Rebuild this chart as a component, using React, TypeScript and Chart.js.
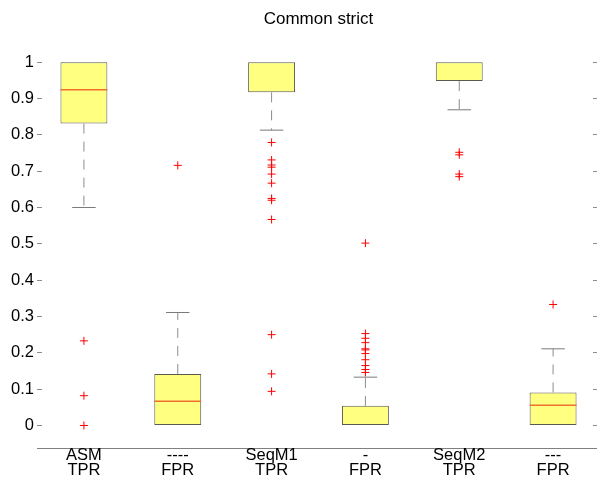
import React, { useEffect, useRef } from 'react';
import { Chart, registerables } from 'chart.js';

Chart.register(...registerables);

// ---- data ----
const labelsTop = ['ASM', '----', 'SeqM1', '-', 'SeqM2', '---'];
const labelsBottom = ['TPR', 'FPR', 'TPR', 'FPR', 'TPR', 'FPR'];
const q1 = [0.831, 0, 0.917, 0, 0.948, 0];
const q3 = [1, 0.142, 1, 0.054, 1, 0.091];
const medians = [0.924, 0.067, 1, 0, 1, 0.056];
const lowerWhisker = [0.6, 0, 0.813, 0, 0.869, 0];
const upperWhisker = [1, 0.311, 1, 0.133, 1, 0.211];
const outliers: number[][] = [
  [0.233, 0.082, 0],
  [0.716],
  [0.779, 0.731, 0.717, 0.711, 0.692, 0.667, 0.625, 0.62, 0.567, 0.25, 0.142, 0.094],
  [0.502, 0.253, 0.24, 0.228, 0.211, 0.208, 0.198, 0.181, 0.165, 0.154, 0.146],
  [0.752, 0.745, 0.692, 0.685],
  [0.333],
];
const yTicks = [0, 0.1, 0.2, 0.3, 0.4, 0.5, 0.6, 0.7, 0.8, 0.9, 1];
const Y_MIN = -0.062;
const Y_MAX = 1.06;
const TITLE = 'Common strict';

const FONT = "'Liberation Sans', Arial, Helvetica, sans-serif";

export default function App() {
  const ref = useRef<HTMLCanvasElement>(null);

  useEffect(() => {
    if (!ref.current) return;
    const positions = labelsTop.map((_, i) => i + 1);
    const boxHalf = 0.25;
    const capHalf = 0.125;

    const boxData = positions.map((x, i) => ({ x, y: [q1[i], q3[i]] }));

    const medianData: any[] = [];
    positions.forEach((x, i) => {
      if (medians[i] > q1[i] && medians[i] < q3[i]) {
        medianData.push({ x: x - boxHalf, y: medians[i] }, { x: x + boxHalf, y: medians[i] }, { x: x + 0.4, y: null });
      }
    });

    const whiskerData: any[] = [];
    const capData: any[] = [];
    positions.forEach((x, i) => {
      if (lowerWhisker[i] < q1[i]) {
        whiskerData.push({ x, y: q1[i] }, { x, y: lowerWhisker[i] }, { x: x + 0.01, y: null });
        capData.push({ x: x - capHalf, y: lowerWhisker[i] }, { x: x + capHalf, y: lowerWhisker[i] }, { x: x + 0.2, y: null });
      }
      if (upperWhisker[i] > q3[i]) {
        whiskerData.push({ x, y: q3[i] }, { x, y: upperWhisker[i] }, { x: x + 0.02, y: null });
        capData.push({ x: x - capHalf, y: upperWhisker[i] }, { x: x + capHalf, y: upperWhisker[i] }, { x: x + 0.3, y: null });
      }
    });

    const outlierData: any[] = [];
    positions.forEach((x, i) => outliers[i].forEach((v) => outlierData.push({ x, y: v })));

    const tickSetter = (s: any) => {
      s.ticks = yTicks.map((v) => ({ value: v }));
    };

    const chart = new Chart(ref.current, {
      type: 'bar',
      data: {
        datasets: [
          {
            type: 'bar',
            data: boxData as any,
            backgroundColor: '#ffff80',
            borderColor: '#5a5a50',
            borderWidth: 1,
            borderSkipped: false,
            barPercentage: 0.5,
            categoryPercentage: 1.0,
            order: 5,
          } as any,
          {
            type: 'line',
            data: whiskerData,
            borderColor: '#8c8c8c',
            borderWidth: 1,
            borderDash: [10, 8],
            pointRadius: 0,
            spanGaps: false,
            fill: false,
            order: 4,
          } as any,
          {
            type: 'line',
            data: capData,
            borderColor: '#7a7a7a',
            borderWidth: 1,
            pointRadius: 0,
            spanGaps: false,
            fill: false,
            order: 3,
          } as any,
          {
            type: 'line',
            data: medianData,
            borderColor: '#f07030',
            borderWidth: 1.5,
            pointRadius: 0,
            spanGaps: false,
            fill: false,
            order: 2,
          } as any,
          {
            type: 'line',
            data: outlierData,
            showLine: false,
            pointStyle: 'cross',
            pointRadius: 4,
            pointBorderColor: '#ff0000',
            pointBackgroundColor: '#ff0000',
            pointBorderWidth: 1,
            order: 1,
          } as any,
        ],
      },
      options: {
        animation: false,
        responsive: false,
        events: [],
        layout: { padding: 0 },
        plugins: {
          legend: { display: false },
          tooltip: { enabled: false },
          title: {
            display: true,
            text: TITLE,
            fullSize: false,
            color: '#000',
            font: { family: FONT, size: 17, weight: 'normal', lineHeight: 1.2 },
            padding: { top: 9, bottom: 11 },
          },
        },
        scales: {
          x: {
            type: 'linear',
            min: 0.5,
            max: 6.5,
            offset: false,
            afterBuildTicks: (s: any) => {
              s.ticks = positions.map((v) => ({ value: v }));
            },
            afterFit: (s: any) => {
              s.height = 34;
            },
            grid: { display: false, drawTicks: false, offset: false },
            border: { display: true, color: '#808080', width: 1 },
            ticks: {
              autoSkip: false,
              maxRotation: 0,
              padding: 0,
              color: '#000',
              font: { family: FONT, size: 16.5, lineHeight: '15px' },
              callback: (v: any) => {
                const i = Math.round(Number(v)) - 1;
                return [labelsTop[i], labelsBottom[i]];
              },
            },
          },
          y: {
            type: 'linear',
            position: 'left',
            min: Y_MIN,
            max: Y_MAX,
            afterBuildTicks: tickSetter,
            afterFit: (s: any) => {
              s.width = 37;
            },
            grid: { drawOnChartArea: false, drawTicks: true, tickLength: -5, color: '#8c8c8c' },
            border: { display: false },
            ticks: {
              padding: 8,
              color: '#000',
              font: { family: FONT, size: 16.5 },
              callback: (v: any) => String(Number(Number(v).toFixed(1))),
            },
          },
          y2: {
            type: 'linear',
            position: 'right',
            min: Y_MIN,
            max: Y_MAX,
            afterBuildTicks: tickSetter,
            afterFit: (s: any) => {
              s.width = 0;
            },
            grid: { drawOnChartArea: false, drawTicks: true, tickLength: -7, color: '#8c8c8c' },
            border: { display: false },
            ticks: { display: false },
          },
        },
      } as any,
    });
    return () => chart.destroy();
  }, []);

  return (
    <div
      style={{
        position: 'fixed',
        left: 0,
        top: 0,
        width: 597,
        height: 482,
        overflow: 'hidden',
        background: '#fff',
      }}
    >
      <canvas ref={ref} width={605} height={482} style={{ display: 'block' }} />
    </div>
  );
}
